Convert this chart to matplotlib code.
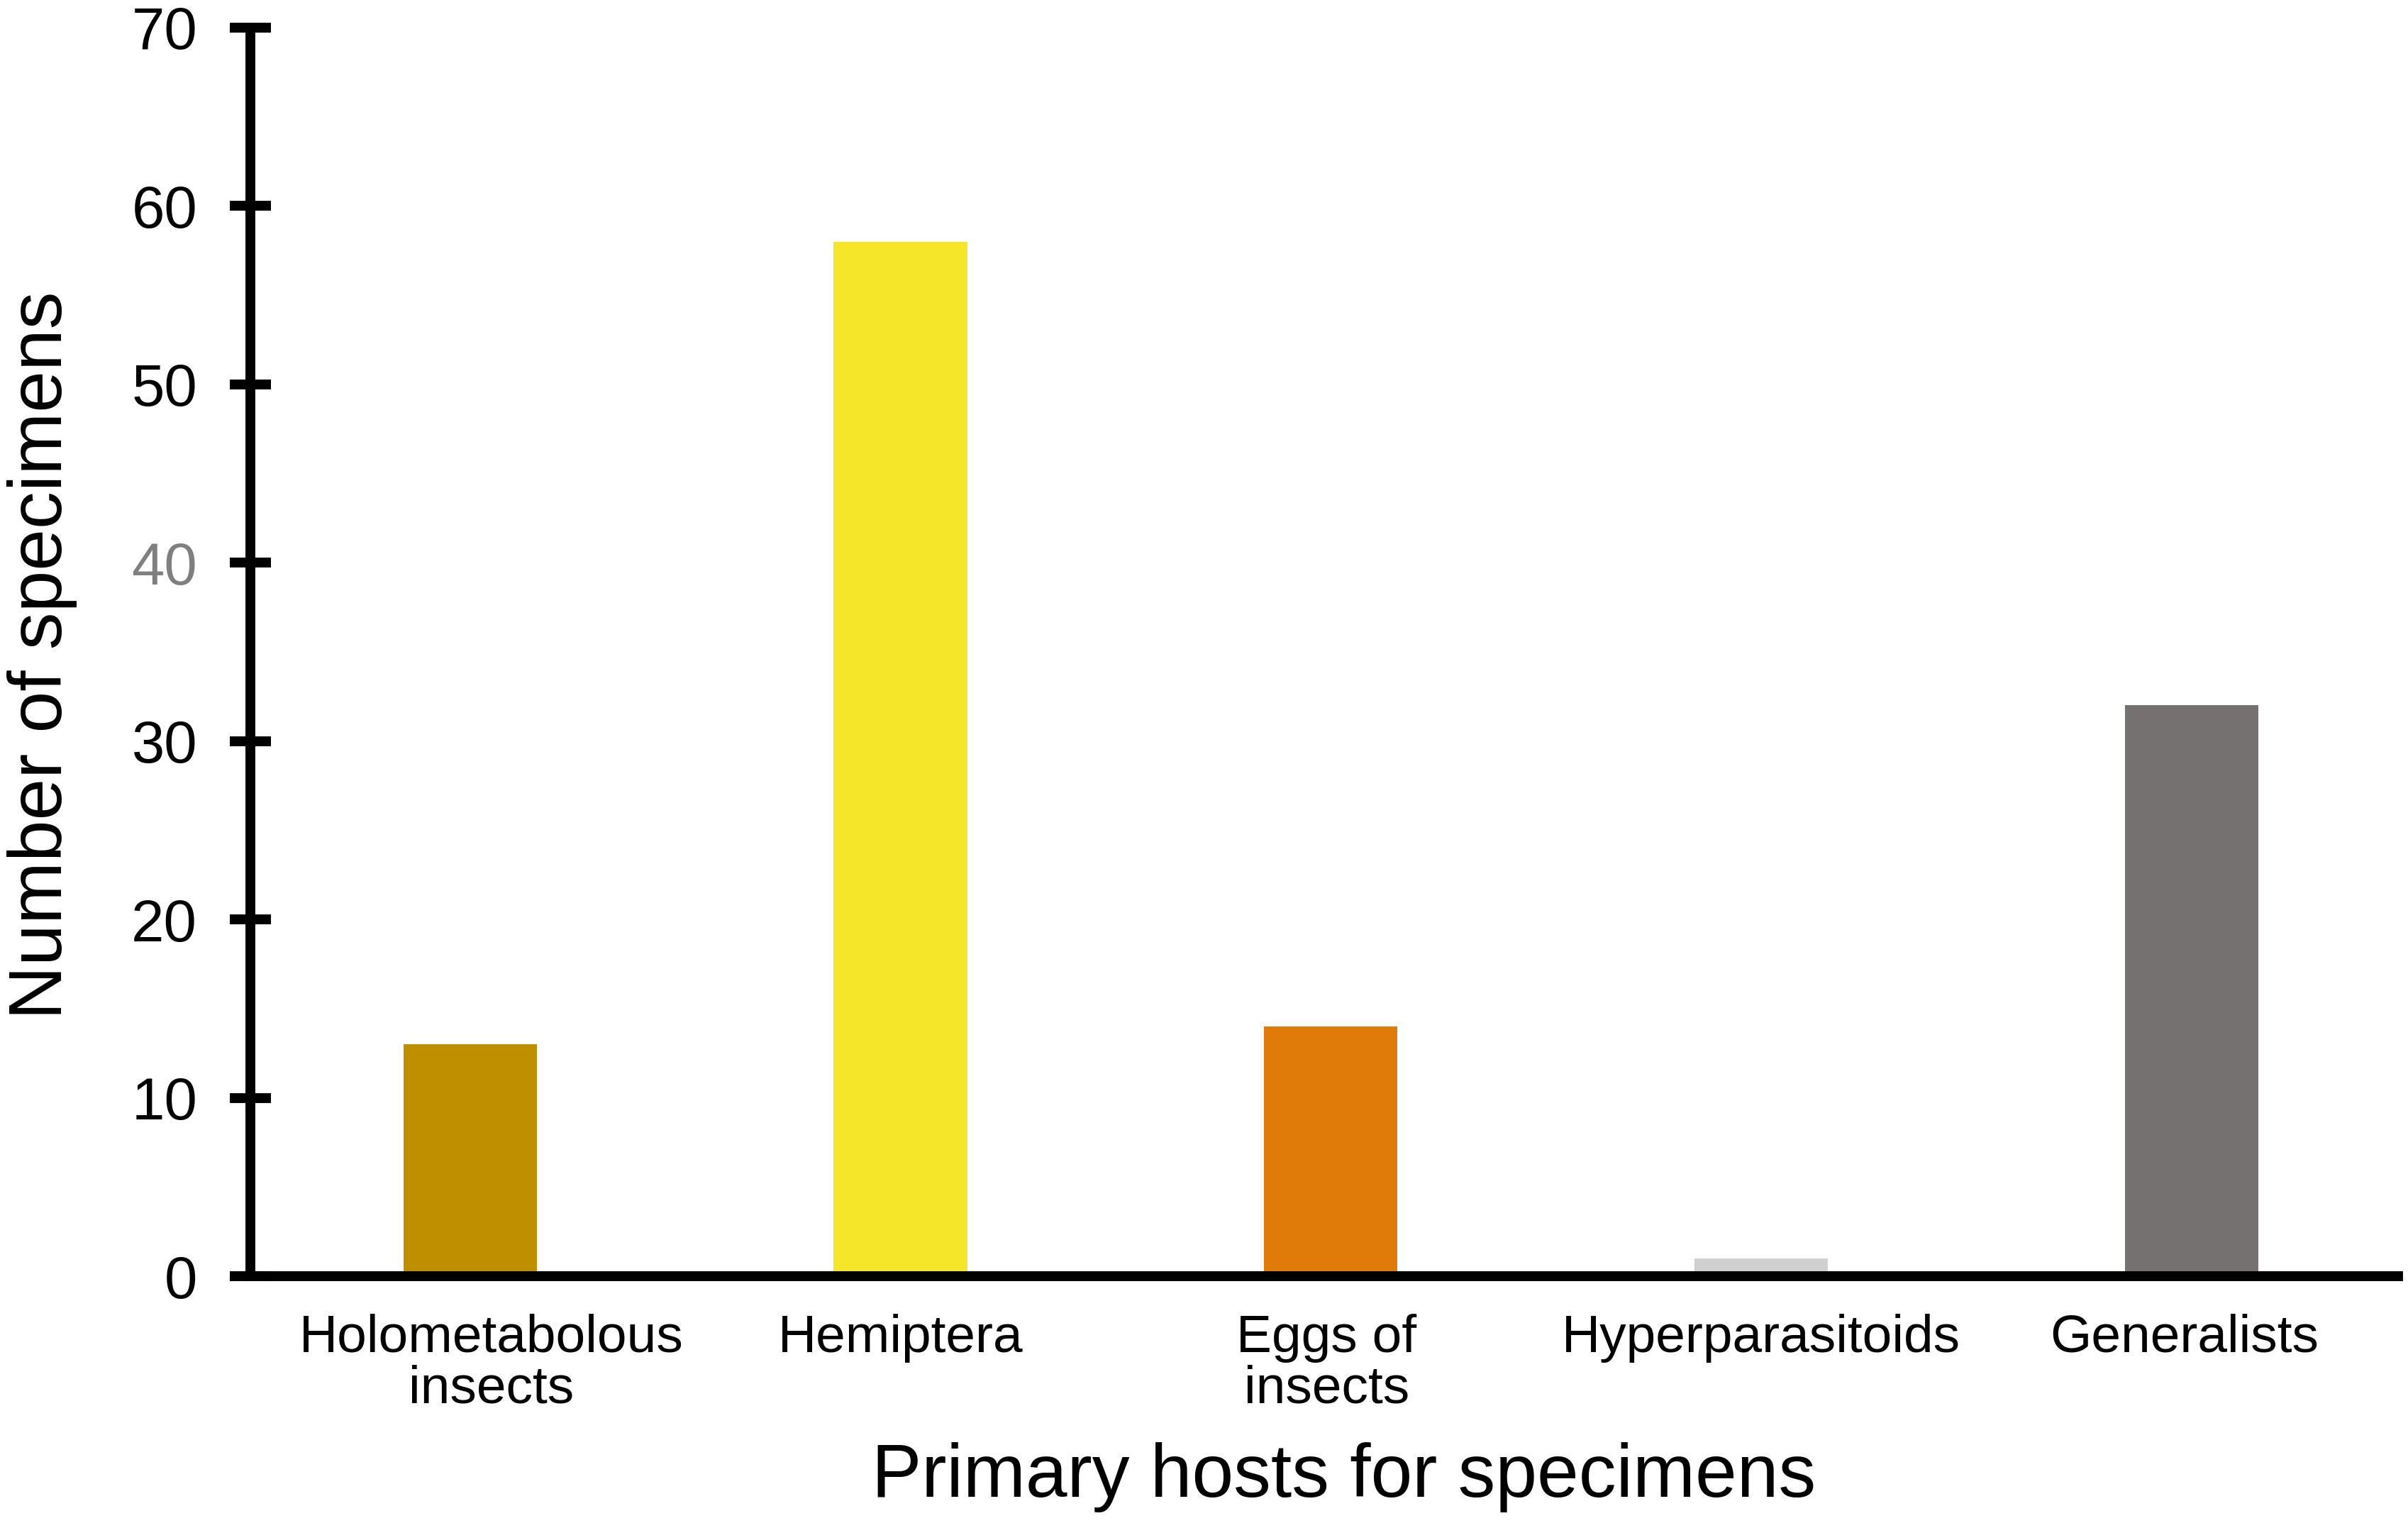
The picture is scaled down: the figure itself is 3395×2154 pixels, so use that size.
import matplotlib
matplotlib.use("Agg")

import matplotlib.pyplot as plt
import matplotlib.transforms as mtransforms
import numpy as np

# ── Data ───────────────────────────────────────────────────────────────────────
hosts = ["Holometabolous\ninsects", "Hemiptera", "Eggs of\ninsects",
         "Hyperparasitoids", "Generalists"]
counts = [13, 58, 14, 1, 32]
bar_colors = ["#BF8F00", "#F5E62A", "#E07B0A", "#D0D0D0", "#767171"]
y_ticks = [0, 10, 20, 30, 40, 50, 60, 70]

plt.rcParams["font.family"] = ["Liberation Sans", "DejaVu Sans"]

fig = plt.figure(figsize=(33.95, 21.54), dpi=100)
ax = fig.add_axes([0.104, 0.1648, 0.892, 0.8172])

x = np.arange(len(hosts))
ax.bar(x, counts, width=0.31, color=bar_colors, zorder=2)

ax.set_xlim(-0.51, 4.48)
ax.set_ylim(0, 70)

# spines
for side in ("top", "right"):
    ax.spines[side].set_visible(False)
for side in ("left", "bottom"):
    ax.spines[side].set_linewidth(10)
    ax.spines[side].set_zorder(3)

# ticks
ax.set_yticks(y_ticks)
ax.set_yticklabels([str(t) for t in y_ticks], fontsize=60)
ax.tick_params(axis="y", direction="inout", length=42, width=10, pad=33)
for lbl in ax.get_yticklabels():
    if lbl.get_text() == "40":
        lbl.set_color("#7F7F7F")

ax.set_xticks(x)
ax.set_xticklabels(hosts, fontsize=54, linespacing=1.05)
ax.tick_params(axis="x", length=0, pad=38)

# nudge the first and last category labels like the original
shifts = [30, 0, -6, 0, -10]
for lbl, dx in zip(ax.get_xticklabels(), shifts):
    lbl.set_transform(lbl.get_transform() +
                      mtransforms.ScaledTranslation(dx / 100, 0, fig.dpi_scale_trans))

# axis labels
ax.text(0.509, -0.161, "Primary hosts for specimens", transform=ax.transAxes,
        ha="center", va="center", fontsize=76)
ax.text(-0.097, 0.497, "Number of specimens", transform=ax.transAxes,
        ha="center", va="center", rotation=90, fontsize=76)

fig.savefig("out.png", dpi=100)
